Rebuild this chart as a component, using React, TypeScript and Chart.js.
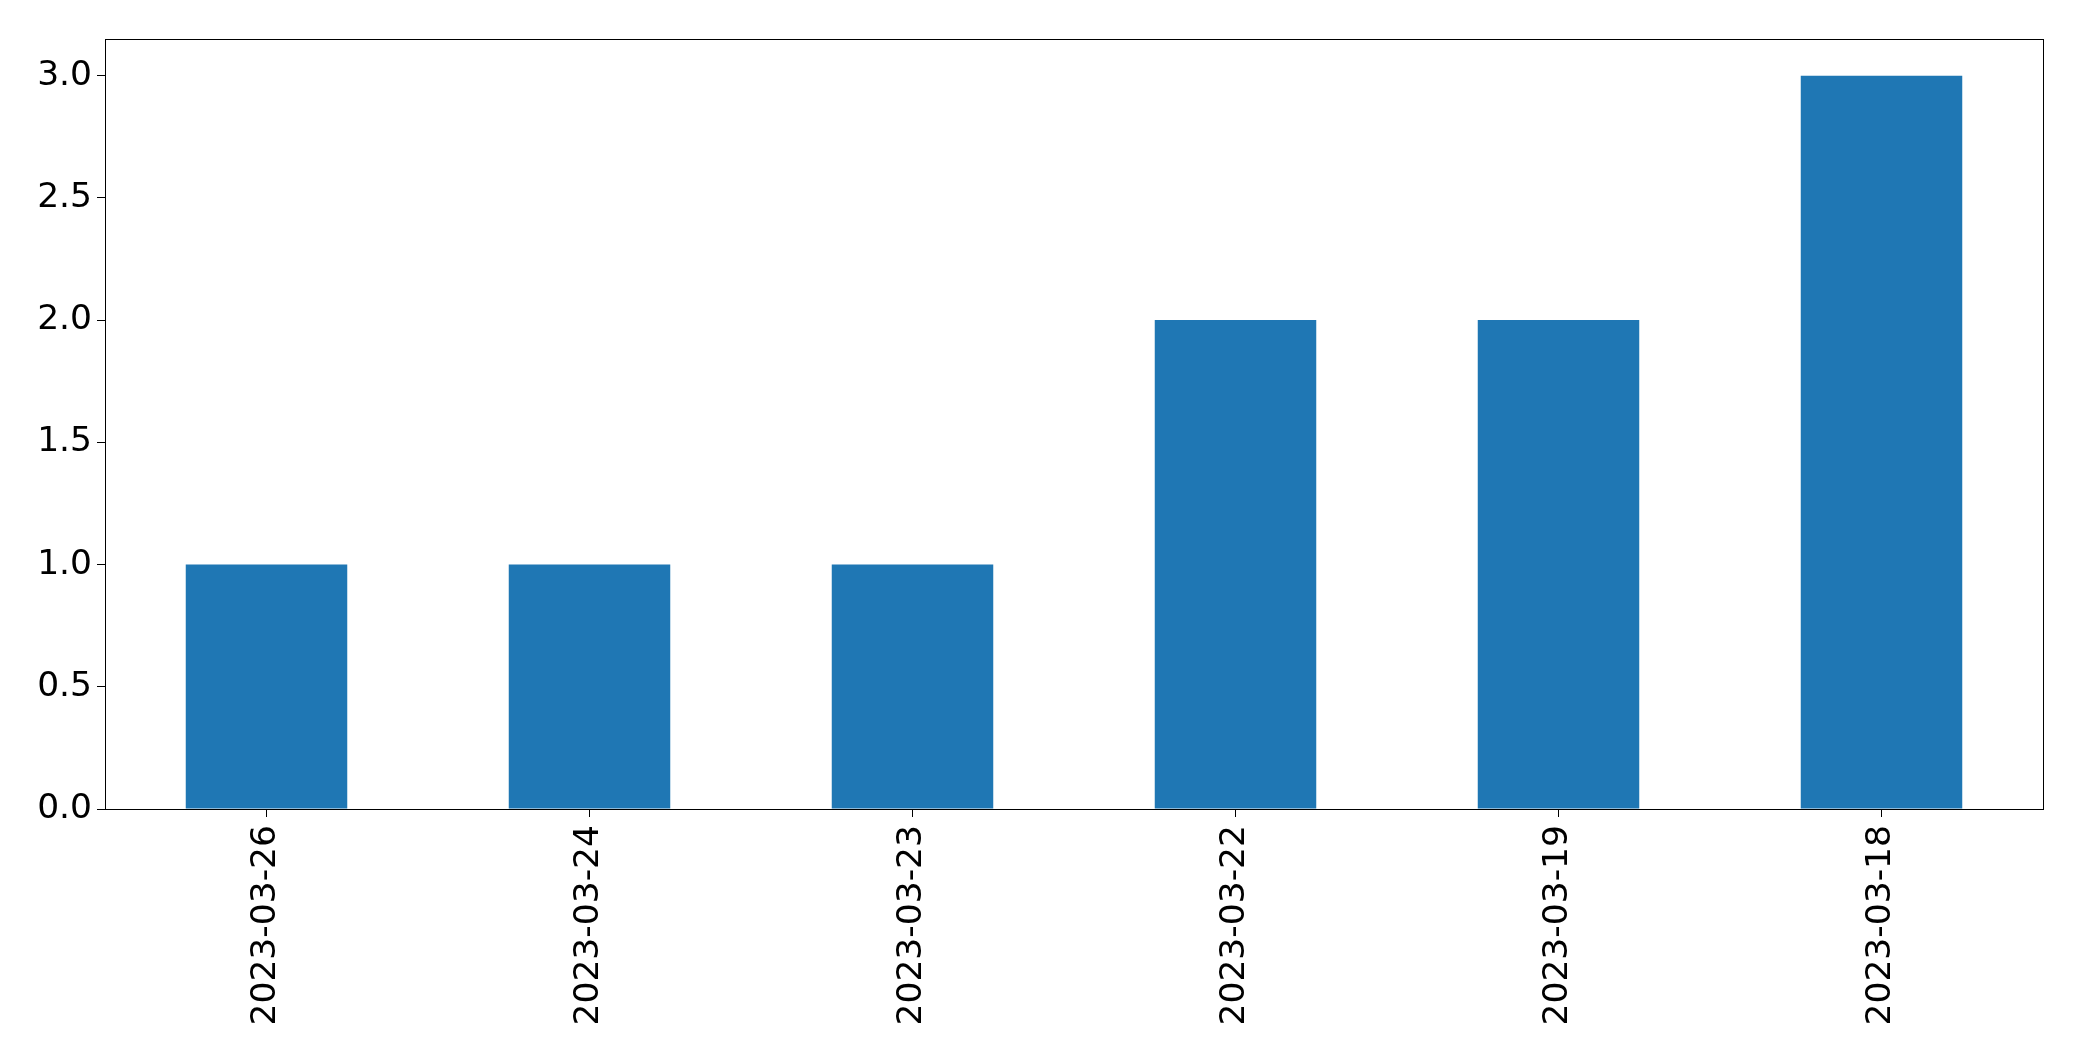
import React, { useEffect, useRef } from "react";
import { Chart, registerables } from "chart.js";

Chart.register(...registerables);

const categories = ["2023-03-26", "2023-03-24", "2023-03-23", "2023-03-22", "2023-03-19", "2023-03-18"];
const counts = [1, 1, 1, 2, 2, 3];
const yMax = 3.15;
const yStep = 0.5;

const FONT = "'DejaVu Sans', sans-serif";
const FONT_SIZE = 34.5;

const framePlugin = {
  id: "frame",
  afterDraw(chart: any) {
    const { ctx, chartArea } = chart;
    ctx.save();
    ctx.strokeStyle = "#000";
    ctx.lineWidth = 1;
    ctx.strokeRect(
      Math.round(chartArea.left) + 0.5,
      Math.round(chartArea.top) + 0.5,
      Math.round(chartArea.right) - Math.round(chartArea.left),
      Math.round(chartArea.bottom) - Math.round(chartArea.top)
    );
    ctx.restore();
  },
};

export default function App() {
  const ref = useRef<HTMLCanvasElement | null>(null);
  useEffect(() => {
    if (!ref.current) return;
    const chart = new Chart(ref.current, {
      type: "bar",
      data: {
        labels: categories,
        datasets: [
          {
            data: counts,
            backgroundColor: "#1f77b4",
            borderWidth: 0,
            categoryPercentage: 1,
            barPercentage: 0.5,
          },
        ],
      },
      options: {
        animation: false,
        responsive: true,
        maintainAspectRatio: false,
        layout: { padding: { top: 39, right: 39, left: 0, bottom: 0 } },
        plugins: { legend: { display: false }, tooltip: { enabled: false } },
        scales: {
          x: {
            offset: true,
            grid: { offset: false, drawOnChartArea: false, drawTicks: true, tickLength: 8, tickColor: "#000", tickWidth: 1 },
            border: { display: false },
            ticks: {
              autoSkip: false,
              minRotation: 90,
              maxRotation: 90,
              padding: 8,
              color: "#000",
              font: { family: FONT, size: FONT_SIZE },
            },
            afterFit(scale: any) {
              scale.height = 252;
            },
          },
          y: {
            min: 0,
            max: yMax,
            grid: { drawOnChartArea: false, drawTicks: true, tickLength: 8, tickColor: "#000", tickWidth: 1 },
            border: { display: false },
            ticks: {
              stepSize: yStep,
              includeBounds: false,
              padding: 5,
              color: "#000",
              font: { family: FONT, size: FONT_SIZE },
              callback: (v: any) => Number(v).toFixed(1),
            },
            afterFit(scale: any) {
              scale.width = 105;
            },
          },
        },
      },
      plugins: [framePlugin],
    });
    return () => chart.destroy();
  }, []);
  return (
    <div style={{ position: "absolute", left: 0, top: 0, width: 2082, height: 1061, background: "#fff" }}>
      <canvas ref={ref} />
    </div>
  );
}
